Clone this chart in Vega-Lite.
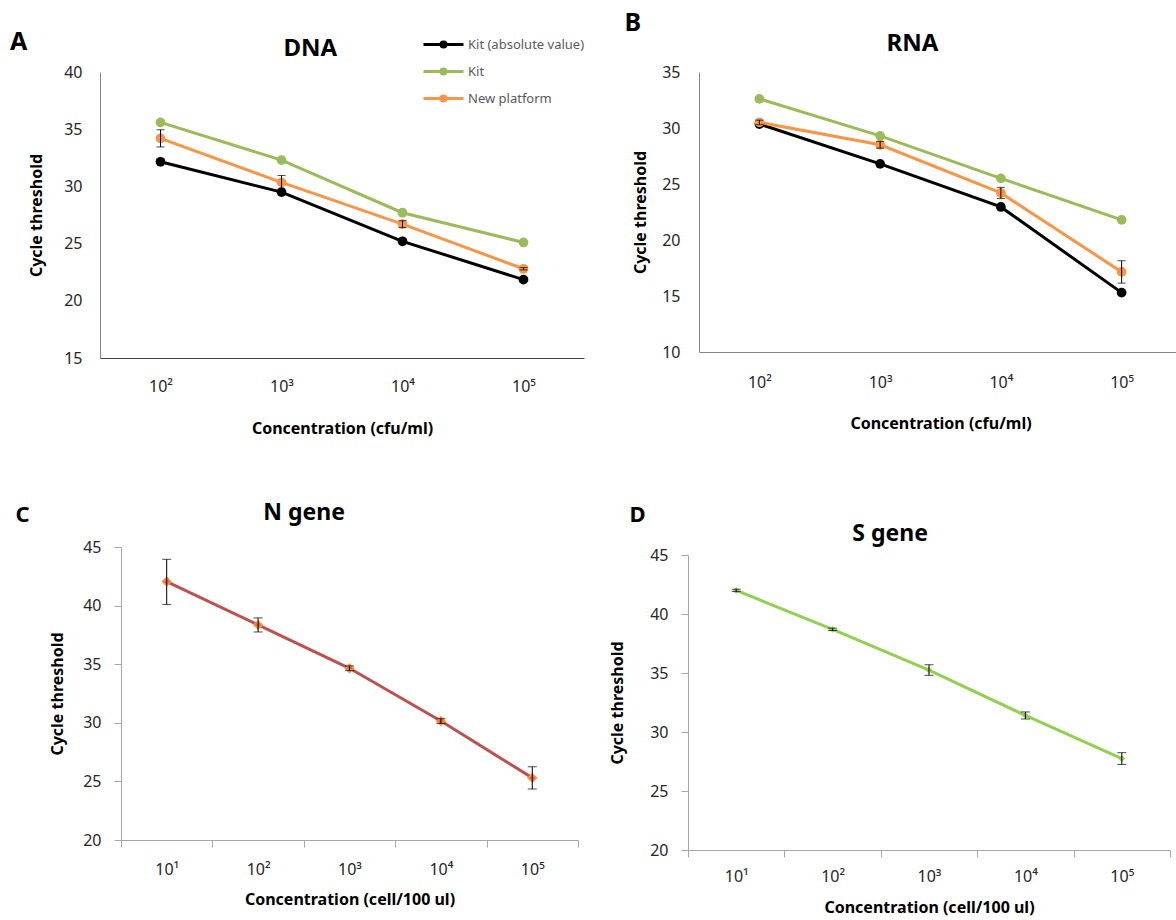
{
  "$schema": "https://vega.github.io/schema/vega-lite/v6.json",
  "background": "white",
  "padding": {"left": 10, "top": 11, "right": 0, "bottom": 2},
  "config": {
    "view": {"stroke": null},
    "font": "Noto Sans",
    "title": {"font": "Noto Sans", "fontWeight": "bold", "color": "#000000", "baseline": "alphabetic"},
    "axis": {"labelFont": "Noto Sans", "labelFontSize": 16, "labelColor": "#262626", "titleFont": "Noto Sans", "titleFontSize": 16, "titleFontWeight": "bold", "titleColor": "#000000", "grid": false, "labelAngle": 0}
  },
  "datasets": {
    "dna": [
      {"conc": "10²", "series": "Kit (absolute value)", "ct": 32.15},
      {"conc": "10³", "series": "Kit (absolute value)", "ct": 29.5},
      {"conc": "10⁴", "series": "Kit (absolute value)", "ct": 25.2},
      {"conc": "10⁵", "series": "Kit (absolute value)", "ct": 21.85},
      {"conc": "10²", "series": "Kit", "ct": 35.6},
      {"conc": "10³", "series": "Kit", "ct": 32.3},
      {"conc": "10⁴", "series": "Kit", "ct": 27.7},
      {"conc": "10⁵", "series": "Kit", "ct": 25.1},
      {"conc": "10²", "series": "New platform", "ct": 34.2, "lo": 33.45, "hi": 34.95},
      {"conc": "10³", "series": "New platform", "ct": 30.35, "lo": 29.75, "hi": 30.95},
      {"conc": "10⁴", "series": "New platform", "ct": 26.7, "lo": 26.4, "hi": 27.0},
      {"conc": "10⁵", "series": "New platform", "ct": 22.8, "lo": 22.7, "hi": 22.9}
    ],
    "rna": [
      {"conc": "10²", "series": "Kit (absolute value)", "ct": 30.35},
      {"conc": "10³", "series": "Kit (absolute value)", "ct": 26.8},
      {"conc": "10⁴", "series": "Kit (absolute value)", "ct": 22.95},
      {"conc": "10⁵", "series": "Kit (absolute value)", "ct": 15.3},
      {"conc": "10²", "series": "Kit", "ct": 32.6},
      {"conc": "10³", "series": "Kit", "ct": 29.3},
      {"conc": "10⁴", "series": "Kit", "ct": 25.5},
      {"conc": "10⁵", "series": "Kit", "ct": 21.8},
      {"conc": "10²", "series": "New platform", "ct": 30.5, "lo": 30.3, "hi": 30.7},
      {"conc": "10³", "series": "New platform", "ct": 28.5, "lo": 28.2, "hi": 28.8},
      {"conc": "10⁴", "series": "New platform", "ct": 24.2, "lo": 23.7, "hi": 24.7},
      {"conc": "10⁵", "series": "New platform", "ct": 17.15, "lo": 16.15, "hi": 18.15}
    ],
    "ngene": [
      {"conc": "10¹", "ct": 42.05, "lo": 40.1, "hi": 43.95},
      {"conc": "10²", "ct": 38.35, "lo": 37.75, "hi": 38.95},
      {"conc": "10³", "ct": 34.65, "lo": 34.45, "hi": 34.85},
      {"conc": "10⁴", "ct": 30.15, "lo": 29.95, "hi": 30.35},
      {"conc": "10⁵", "ct": 25.3, "lo": 24.35, "hi": 26.25}
    ],
    "sgene": [
      {"conc": "10¹", "ct": 42.0, "lo": 41.9, "hi": 42.1},
      {"conc": "10²", "ct": 38.7, "lo": 38.6, "hi": 38.8},
      {"conc": "10³", "ct": 35.25, "lo": 34.8, "hi": 35.7},
      {"conc": "10⁴", "ct": 31.4, "lo": 31.1, "hi": 31.7},
      {"conc": "10⁵", "ct": 27.75, "lo": 27.25, "hi": 28.25}
    ]
  },
  "spacing": 66,
  "vconcat": [
    {
      "spacing": 40,
      "hconcat": [
        {
          "title": {"text": "A", "orient": "left", "anchor": "end", "frame": "bounds", "angle": 0, "align": "right", "baseline": "alphabetic", "fontSize": 25, "offset": -16, "dy": 13},
          "vconcat": [
            {
              "width": 484, "height": 286,
              "title": {"text": "DNA", "anchor": "middle", "frame": "bounds", "fontSize": 24, "offset": 3, "dx": 4},
              "data": {"name": "dna"},
              "layer": [
                {
                  "mark": {"type": "line", "strokeWidth": 3},
                  "encoding": {
                    "x": {"field": "conc", "type": "ordinal", "sort": null, "scale": {"type": "point", "padding": 0.5}, "title": "Concentration (cfu/ml)", "axis": {"ticks": false, "labelPadding": 20, "domainColor": "#404040", "titlePadding": 26}},
                    "y": {"field": "ct", "type": "quantitative", "scale": {"domain": [15, 40], "nice": false, "zero": false}, "title": "Cycle threshold", "axis": {"values": [15, 20, 25, 30, 35, 40], "ticks": false, "labelPadding": 18, "domainColor": "#868686", "titlePadding": 19}},
                    "color": {"field": "series", "type": "nominal", "scale": {"domain": ["Kit (absolute value)", "Kit", "New platform"], "range": ["#000000", "#9BBB59", "#F79646"]}, "legend": {"title": null, "orient": "none", "legendX": 337, "legendY": -34, "symbolType": "M-4,0L4,0M0.5,0A0.5,0.5,0,1,1,-0.5,0A0.5,0.5,0,1,1,0.5,0Z", "symbolSize": 100, "symbolStrokeWidth": 3, "labelFont": "Noto Sans", "labelFontSize": 13, "labelColor": "#595959", "labelOffset": 18, "rowPadding": 10, "padding": 0, "labelLimit": 300}}
                  }
                },
                {
                  "mark": {"type": "point", "filled": true, "size": 95, "opacity": 1},
                  "encoding": {
                    "x": {"field": "conc", "type": "ordinal", "sort": null},
                    "y": {"field": "ct", "type": "quantitative", "title": "Cycle threshold"},
                    "color": {"field": "series", "type": "nominal"}
                  }
                },
                {
                  "transform": [{"filter": "isValid(datum.lo)"}],
                  "mark": {"type": "errorbar", "ticks": {"size": 8}, "thickness": 1, "color": "#000000"},
                  "encoding": {
                    "x": {"field": "conc", "type": "ordinal", "sort": null},
                    "y": {"field": "lo", "type": "quantitative", "title": "Cycle threshold"},
                    "y2": {"field": "hi"}
                  }
                }
              ]
            }
          ]
        },
        {
          "title": {"text": "B", "orient": "left", "anchor": "end", "frame": "bounds", "angle": 0, "align": "right", "baseline": "alphabetic", "fontSize": 25, "offset": -25, "dy": -1},
          "vconcat": [
            {
              "width": 483, "height": 280,
              "title": {"text": "RNA", "anchor": "middle", "frame": "bounds", "fontSize": 24, "offset": 8, "dx": 5},
              "data": {"name": "rna"},
              "layer": [
                {
                  "mark": {"type": "line", "strokeWidth": 3},
                  "encoding": {
                    "x": {"field": "conc", "type": "ordinal", "sort": null, "scale": {"type": "point", "padding": 0.5}, "title": "Concentration (cfu/ml)", "axis": {"ticks": false, "labelPadding": 22, "domainColor": "#868686", "titlePadding": 25}},
                    "y": {"field": "ct", "type": "quantitative", "scale": {"domain": [10, 35], "nice": false, "zero": false}, "title": "Cycle threshold", "axis": {"values": [10, 15, 20, 25, 30, 35], "ticks": false, "labelPadding": 19, "domainColor": "#868686", "titlePadding": 13}},
                    "color": {"field": "series", "type": "nominal", "scale": {"domain": ["Kit (absolute value)", "Kit", "New platform"], "range": ["#000000", "#9BBB59", "#F79646"]}, "legend": null}
                  }
                },
                {
                  "mark": {"type": "point", "filled": true, "size": 95, "opacity": 1},
                  "encoding": {
                    "x": {"field": "conc", "type": "ordinal", "sort": null},
                    "y": {"field": "ct", "type": "quantitative", "title": "Cycle threshold"},
                    "color": {"field": "series", "type": "nominal", "legend": null}
                  }
                },
                {
                  "transform": [{"filter": "isValid(datum.lo)"}],
                  "mark": {"type": "errorbar", "ticks": {"size": 8}, "thickness": 1, "color": "#000000"},
                  "encoding": {
                    "x": {"field": "conc", "type": "ordinal", "sort": null},
                    "y": {"field": "lo", "type": "quantitative", "title": "Cycle threshold"},
                    "y2": {"field": "hi"}
                  }
                }
              ]
            }
          ]
        }
      ]
    },
    {
      "spacing": 30,
      "hconcat": [
        {
          "title": {"text": "C", "orient": "left", "anchor": "end", "frame": "bounds", "angle": 0, "align": "right", "baseline": "alphabetic", "fontSize": 22, "offset": 6, "dy": 20},
          "vconcat": [
            {
              "width": 478, "height": 293,
              "title": {"text": "N gene", "anchor": "middle", "frame": "bounds", "fontSize": 23, "offset": 14, "dx": -10},
              "data": {"name": "ngene"},
              "layer": [
                {
                  "mark": {"type": "line", "strokeWidth": 3, "color": "#C0504D"},
                  "encoding": {
                    "x": {"field": "conc", "type": "ordinal", "sort": null, "scale": {"type": "band", "paddingInner": 0, "paddingOuter": 0, "range": [21, 478]}, "title": "Concentration (cell/100 ul)", "axis": {"tickBand": "extent", "tickSize": 7, "tickColor": "#A6A6A6", "domainColor": "#A6A6A6", "labelPadding": 14, "titlePadding": 14}},
                    "y": {"field": "ct", "type": "quantitative", "scale": {"domain": [20, 45], "nice": false, "zero": false}, "title": "Cycle threshold", "axis": {"values": [20, 25, 30, 35, 40, 45], "offset": -21, "tickSize": 7, "tickColor": "#A6A6A6", "domainColor": "#A6A6A6", "labelPadding": 13, "titlePadding": 17}}
                  }
                },
                {
                  "mark": {"type": "point", "shape": "diamond", "filled": true, "size": 70, "opacity": 1, "color": "#E0703F", "stroke": "#F79646", "strokeWidth": 1.5},
                  "encoding": {
                    "x": {"field": "conc", "type": "ordinal", "sort": null},
                    "y": {"field": "ct", "type": "quantitative", "title": "Cycle threshold"}
                  }
                },
                {
                  "mark": {"type": "errorbar", "ticks": {"size": 9}, "thickness": 1, "color": "#000000"},
                  "encoding": {
                    "x": {"field": "conc", "type": "ordinal", "sort": null},
                    "y": {"field": "lo", "type": "quantitative", "title": "Cycle threshold"},
                    "y2": {"field": "hi"}
                  }
                }
              ]
            }
          ]
        },
        {
          "title": {"text": "D", "orient": "left", "anchor": "end", "frame": "bounds", "angle": 0, "align": "right", "baseline": "alphabetic", "fontSize": 22, "offset": -52, "dy": -1},
          "vconcat": [
            {
              "width": 482, "height": 303,
              "title": {"text": "S gene", "anchor": "middle", "frame": "bounds", "fontSize": 23, "offset": 1, "dx": 0},
              "data": {"name": "sgene"},
              "layer": [
                {
                  "mark": {"type": "line", "strokeWidth": 3, "color": "#92D050"},
                  "encoding": {
                    "x": {"field": "conc", "type": "ordinal", "sort": null, "scale": {"type": "band", "paddingInner": 0, "paddingOuter": 0}, "title": "Concentration (cell/100 ul)", "axis": {"tickBand": "extent", "tickSize": 7, "tickColor": "#A6A6A6", "domainColor": "#A6A6A6", "labelPadding": 11, "titlePadding": 15}},
                    "y": {"field": "ct", "type": "quantitative", "scale": {"domain": [20, 45], "nice": false, "zero": false, "range": [303, 8]}, "title": "Cycle threshold", "axis": {"values": [20, 25, 30, 35, 40, 45], "tickSize": 7, "tickColor": "#A6A6A6", "domainColor": "#A6A6A6", "labelPadding": 13, "titlePadding": 24}}
                  }
                },
                {
                  "mark": {"type": "point", "shape": "diamond", "filled": true, "size": 45, "opacity": 1, "color": "#92D050"},
                  "encoding": {
                    "x": {"field": "conc", "type": "ordinal", "sort": null},
                    "y": {"field": "ct", "type": "quantitative", "title": "Cycle threshold"}
                  }
                },
                {
                  "mark": {"type": "errorbar", "ticks": {"size": 9}, "thickness": 1, "color": "#000000"},
                  "encoding": {
                    "x": {"field": "conc", "type": "ordinal", "sort": null},
                    "y": {"field": "lo", "type": "quantitative", "title": "Cycle threshold"},
                    "y2": {"field": "hi"}
                  }
                }
              ]
            }
          ]
        }
      ]
    }
  ]
}
